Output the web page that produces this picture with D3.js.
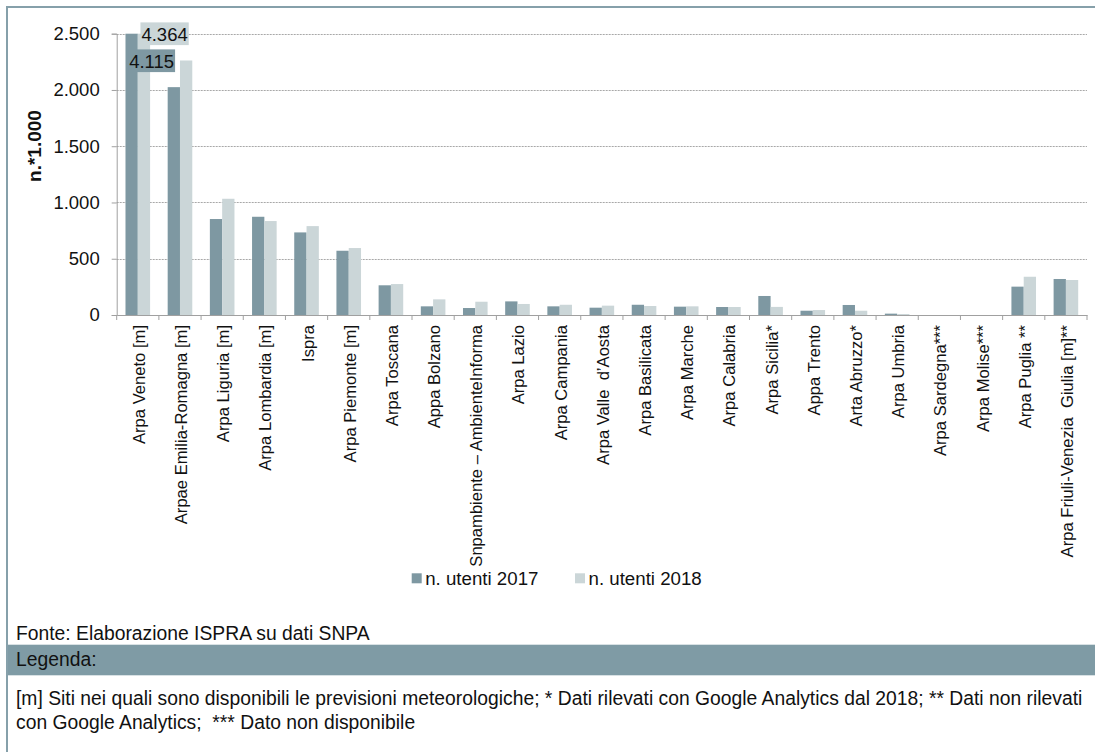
<!DOCTYPE html>
<html>
<head>
<meta charset="utf-8">
<script src="https://cdn.jsdelivr.net/npm/d3@7"></script>
<style>
  html, body { margin: 0; padding: 0; background: #fff; }
  svg { display: block; }
  text { font-family: "Liberation Sans", Arial, sans-serif; white-space: pre; }
</style>
</head>
<body>
<svg id="chart" width="1095" height="752"></svg>
<script>
// ---------------- data ----------------
const categories = [
  "Arpa Veneto [m]", "Arpae Emilia-Romagna [m]", "Arpa Liguria [m]", "Arpa Lombardia [m]",
  "Ispra", "Arpa Piemonte [m]", "Arpa Toscana", "Appa Bolzano",
  "Snpambiente – AmbienteInforma", "Arpa Lazio", "Arpa Campania", "Arpa Valle  d’Aosta",
  "Arpa Basilicata", "Arpa Marche", "Arpa Calabria", "Arpa Sicilia*", "Appa Trento",
  "Arta Abruzzo*", "Arpa Umbria", "Arpa Sardegna***", "Arpa Molise***", "Arpa Puglia **",
  "Arpa Friuli-Venezia  Giulia [m]**"
];
const users2017 = [4115, 2025, 853, 873, 734, 571, 264, 77, 62, 121, 77, 65, 91, 74, 71, 169, 38, 89, 12, 0, 0, 252, 320];
const users2018 = [4364, 2262, 1033, 835, 790, 595, 275, 139, 118, 98, 91, 83, 80, 77, 71, 72, 44, 38, 9, 0, 0, 340, 311];
const seriesNames = ["n. utenti 2017", "n. utenti 2018"];
const yTicks = [0, 500, 1000, 1500, 2000, 2500];
const yTitle = "n.*1.000";
const sourceText = "Fonte: Elaborazione ISPRA su dati SNPA";
const legendTitle = "Legenda:";
const noteLines = [
  "[m] Siti nei quali sono disponibili le previsioni meteorologiche; * Dati rilevati con Google Analytics dal 2018; ** Dati non rilevati",
  "con Google Analytics;  *** Dato non disponibile"
];

// ---------------- styles ----------------
const colors = ["#7e98a2", "#cbd6d8"];
const frameColor = "#86a0aa";
const axisColor = "#a0a0a0";

const svg = d3.select("#chart");
const it = d3.formatLocale({decimal: ",", thousands: ".", grouping: [3], currency: ["", "€"]});
const fmt = it.format(",d");

const plot = {left: 116.7, right: 1087, top: 33.7, bottom: 315};
const yMax = d3.max(yTicks);

const x0 = d3.scaleBand().domain(categories).range([plot.left, plot.right]).padding(0);
const x1 = d3.scaleBand().domain(seriesNames).range([0, x0.bandwidth()]).paddingInner(0).paddingOuter(0.715);
const y = d3.scaleLinear().domain([0, yMax]).range([plot.bottom, plot.top]);

const rows = categories.map((c, i) => ({cat: c, vals: [users2017[i], users2018[i]]}));

// frame
svg.append("line").attr("x1", 6).attr("x2", 1095).attr("y1", 7).attr("y2", 7)
  .attr("stroke", frameColor).attr("stroke-width", 2);
svg.append("line").attr("x1", 7).attr("x2", 7).attr("y1", 6).attr("y2", 752)
  .attr("stroke", frameColor).attr("stroke-width", 2);

// gridlines
svg.append("g").selectAll("line").data(yTicks.filter(d => d > 0)).join("line")
  .attr("x1", plot.left).attr("x2", plot.right)
  .attr("y1", d => Math.round(y(d)) + 0.5).attr("y2", d => Math.round(y(d)) + 0.5)
  .attr("stroke", "#a8a8a8").attr("stroke-width", 1).attr("stroke-dasharray", "2,1");

// bars
const groups = svg.append("g").selectAll("g").data(rows).join("g")
  .attr("transform", d => `translate(${x0(d.cat)},0)`);
groups.selectAll("rect").data(d => d.vals.map((v, j) => ({v, s: seriesNames[j], j}))).join("rect")
  .attr("x", d => x1(d.s))
  .attr("width", x1.bandwidth())
  .attr("y", d => y(Math.min(d.v, yMax)))
  .attr("height", d => plot.bottom - y(Math.min(d.v, yMax)))
  .attr("fill", d => colors[d.j]);

// y axis
const yAxis = svg.append("g").attr("transform", `translate(${plot.left},0)`)
  .call(d3.axisLeft(y).tickValues(yTicks).tickSize(5).tickPadding(12).tickFormat(fmt));
yAxis.select(".domain").attr("stroke", axisColor);
yAxis.selectAll(".tick line").attr("stroke", axisColor);
yAxis.selectAll("text").attr("fill", "#111").style("font-size", "18.5px");

// x axis
const xAxis = svg.append("g").attr("transform", `translate(0,${plot.bottom})`)
  .call(d3.axisBottom(x0).tickSize(0).tickSizeOuter(0));
xAxis.select(".domain").attr("stroke", axisColor);
xAxis.selectAll("text")
  .attr("x", -10).attr("y", 0).attr("dy", "0.42em")
  .attr("transform", "rotate(-90)")
  .style("text-anchor", "end").style("font-size", "16.6px").attr("fill", "#111");
// category boundary ticks
const bounds = categories.map(c => x0(c)).concat([plot.right]);
svg.append("g").selectAll("line").data(bounds).join("line")
  .attr("x1", d => d).attr("x2", d => d)
  .attr("y1", plot.bottom).attr("y2", plot.bottom + 5)
  .attr("stroke", axisColor);

// y title
svg.append("text").attr("transform", `translate(40.5,146) rotate(-90)`)
  .attr("text-anchor", "middle").style("font-size", "19px").style("font-weight", "bold")
  .attr("fill", "#111").text(yTitle);

// data labels for clipped bars (values above axis max)
const labelBaselines = [y(yMax) + 34, y(yMax) + 7];
rows.forEach(r => {
  r.vals.forEach((v, j) => {
    if (v <= yMax) return;
    const cx = x0(r.cat) + x1(seriesNames[j]) + x1.bandwidth() / 2;
    const g = svg.append("g");
    const t = g.append("text").attr("x", cx - 2.5).attr("y", labelBaselines[j])
      .style("font-size", "18.5px").attr("fill", "#111").text(fmt(v));
    const bb = t.node().getBBox();
    g.insert("rect", "text").attr("x", bb.x - 1).attr("y", labelBaselines[j] - 18.3)
      .attr("width", bb.width + 2).attr("height", 22.7).attr("fill", colors[j]);
  });
});

// legend
const legendPos = [411.7, 575];
const legend = svg.append("g");
legendPos.forEach((lx, j) => {
  legend.append("rect").attr("x", lx).attr("y", 573.3).attr("width", 10).attr("height", 10).attr("fill", colors[j]);
  legend.append("text").attr("x", lx + 13.5).attr("y", 584.5).style("font-size", "18.7px").attr("fill", "#111")
    .text(seriesNames[j]);
});

// footer
const sx = 0.92;
function footText(str, xx, yy) {
  svg.append("text").attr("transform", `translate(${xx},${yy}) scale(${sx},1)`)
    .style("font-size", "21px").attr("fill", "#111").text(str);
}
footText(sourceText, 16, 640.3);
svg.append("rect").attr("x", 8).attr("y", 644.7).attr("width", 1087).attr("height", 30.6).attr("fill", "#7f9ba5");
footText(legendTitle, 16, 666.3);
footText(noteLines[0], 16, 705);
footText(noteLines[1], 16, 729.3);
</script>
</body>
</html>
